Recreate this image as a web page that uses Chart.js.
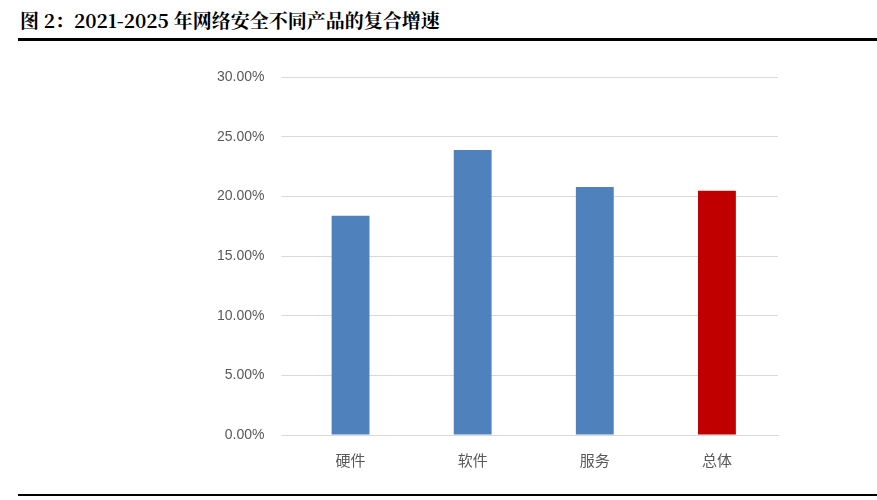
<!DOCTYPE html>
<html><head><meta charset="utf-8">
<script src="https://cdn.jsdelivr.net/npm/chart.js@4/dist/chart.umd.min.js"></script>
<style>
html,body{margin:0;padding:0;background:#fff;width:877px;height:500px;overflow:hidden;font-family:"Noto Sans CJK SC";}
#title{position:absolute;left:20px;top:6px;font-size:19px;font-weight:bold;color:#000;font-family:"Noto Serif CJK SC","Noto Sans CJK SC";}
#top{position:absolute;left:18px;top:38px;width:859px;height:3px;background:#000;}
#bot{position:absolute;left:18px;top:494px;width:859px;height:2px;background:#000;}
#wrap{position:absolute;left:200px;top:52px;width:600px;height:425px;}
</style></head><body>
<div id="title">图 2：2021-2025 年网络安全不同产品的复合增速</div>
<div id="top"></div><div id="bot"></div>
<div id="wrap"><canvas id="c" width="600" height="425"></canvas></div>
<script>
const categories=["硬件","软件","服务","总体"];
const values=[18.4,23.9,20.8,20.5];
const colors=["#4f81bd","#4f81bd","#4f81bd","#c00000"];
const yTicks=[0,5,10,15,20,25,30];
new Chart(document.getElementById('c'),{type:'bar',
data:{labels:categories,datasets:[{data:values,backgroundColor:colors,barPercentage:0.31,categoryPercentage:1}]},
options:{responsive:false,animation:false,layout:{padding:{top:2,right:22}},
plugins:{legend:{display:false},tooltip:{enabled:false}},
scales:{x:{grid:{display:false},border:{color:'#d9d9d9'},ticks:{color:'#595959',font:{size:15,family:'Noto Sans CJK SC'},padding:8}},
y:{min:0,max:30,afterBuildTicks:a=>{a.ticks=yTicks.map(v=>({value:v}));},
grid:{color:'#d9d9d9'},border:{display:false},
ticks:{color:'#595959',font:{size:14,family:'Liberation Sans'},padding:17,callback:v=>v.toFixed(2)+'%'}}}}});
</script></body></html>
